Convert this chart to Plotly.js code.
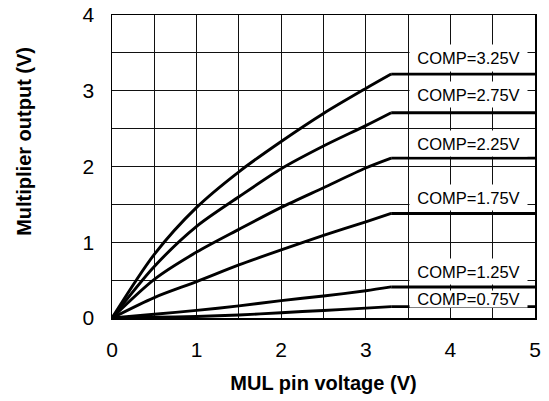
<!DOCTYPE html>
<html>
<head>
<meta charset="utf-8">
<script src="https://cdn.plot.ly/plotly-3.0.1.min.js"></script>
<style>html,body{margin:0;padding:0;background:#fff;}</style>
</head>
<body>
<div id="chart" style="width:549px;height:401px;"></div>
<script>
// MUL pin voltage (V) sample points on the rising part of each curve
var mulVoltage = [0, 0.5, 1.0, 1.5, 2.0, 2.5, 3.0, 3.3];
// clamped region end
var mulEnd = 5;

// Multiplier output (V) for each COMP level
var comp325 = [0, 0.84, 1.46, 1.93, 2.33, 2.70, 3.03, 3.22];
var comp275 = [0, 0.68, 1.21, 1.60, 1.97, 2.27, 2.54, 2.71];
var comp225 = [0, 0.51, 0.87, 1.17, 1.46, 1.72, 1.98, 2.11];
var comp175 = [0, 0.27, 0.48, 0.70, 0.90, 1.09, 1.27, 1.38];
var comp125 = [0, 0.05, 0.10, 0.16, 0.23, 0.29, 0.36, 0.41];
var comp075 = [0, 0.01, 0.02, 0.04, 0.07, 0.10, 0.13, 0.15];

var seriesNames = ['COMP=3.25V', 'COMP=2.75V', 'COMP=2.25V', 'COMP=1.75V', 'COMP=1.25V', 'COMP=0.75V'];
var seriesValues = [comp325, comp275, comp225, comp175, comp125, comp075];

var xTickVals = [0, 0.5, 1, 1.5, 2, 2.5, 3, 3.5, 4, 4.5, 5];
var xTickText = ['0', '', '1', '', '2', '', '3', '', '4', '', '5'];
var yTickVals = [0, 0.5, 1, 1.5, 2, 2.5, 3, 3.5, 4];
var yTickText = ['0', '', '1', '', '2', '', '3', '', '4'];

var FONT = 'Liberation Sans, Arial, Helvetica, sans-serif';
var lineStyle = {color: '#000', width: 2.9};

var traces = [];
seriesValues.forEach(function (vals, i) {
  traces.push({
    x: mulVoltage, y: vals, type: 'scatter', mode: 'lines',
    line: Object.assign({shape: 'spline', smoothing: 0.8}, lineStyle),
    name: seriesNames[i], showlegend: false, hoverinfo: 'skip'
  });
  var last = vals[vals.length - 1];
  traces.push({
    x: [mulVoltage[mulVoltage.length - 1], mulEnd], y: [last, last],
    type: 'scatter', mode: 'lines', line: lineStyle,
    showlegend: false, hoverinfo: 'skip'
  });
});

// label placement (pixels above each plateau) and box heights
var labelShift = [16, 18, 15, 16, 15, 8];
var labelHeight = [26, 25, 25, 25, 25, 16];

var annotations = seriesValues.map(function (vals, i) {
  return {
    xref: 'x', yref: 'y', x: 4.21, y: vals[vals.length - 1],
    yshift: labelShift[i], xanchor: 'center', yanchor: 'middle',
    text: seriesNames[i], showarrow: false, bgcolor: '#fff',
    width: 117, height: labelHeight[i], borderpad: 0,
    font: {family: FONT, size: 16.5, color: '#000'}
  };
});
annotations.push({
  xref: 'paper', yref: 'paper', x: -0.21, y: 0.582,
  xanchor: 'center', yanchor: 'middle', textangle: -90,
  text: '<b>Multiplier output (V)</b>', showarrow: false,
  font: {family: FONT, size: 20, color: '#000'}
});

var layout = {
  width: 549, height: 401,
  margin: {l: 112, r: 14, t: 15, b: 83, pad: 0},
  paper_bgcolor: '#fff', plot_bgcolor: '#fff',
  font: {family: FONT, color: '#000'},
  showlegend: false,
  xaxis: {
    range: [0, 5], tickvals: xTickVals, ticktext: xTickText,
    showgrid: true, gridcolor: '#111', gridwidth: 1,
    zeroline: false, showline: true, mirror: true, linecolor: '#000', linewidth: 1.5,
    ticks: '', ticklabelstandoff: 12,
    tickfont: {family: FONT, size: 21, color: '#000'},
    title: {text: '<b>MUL pin voltage (V)</b>', standoff: 16, font: {family: FONT, size: 20, color: '#000'}},
    fixedrange: true
  },
  yaxis: {
    range: [0, 4], tickvals: yTickVals, ticktext: yTickText,
    showgrid: true, gridcolor: '#111', gridwidth: 1,
    zeroline: false, showline: true, mirror: true, linecolor: '#000', linewidth: 1.5,
    ticks: '', ticklabelstandoff: 12,
    tickfont: {family: FONT, size: 21, color: '#000'},
    fixedrange: true
  },
  annotations: annotations
};

Plotly.newPlot('chart', traces, layout, {staticPlot: true, displayModeBar: false});
</script>
</body>
</html>
